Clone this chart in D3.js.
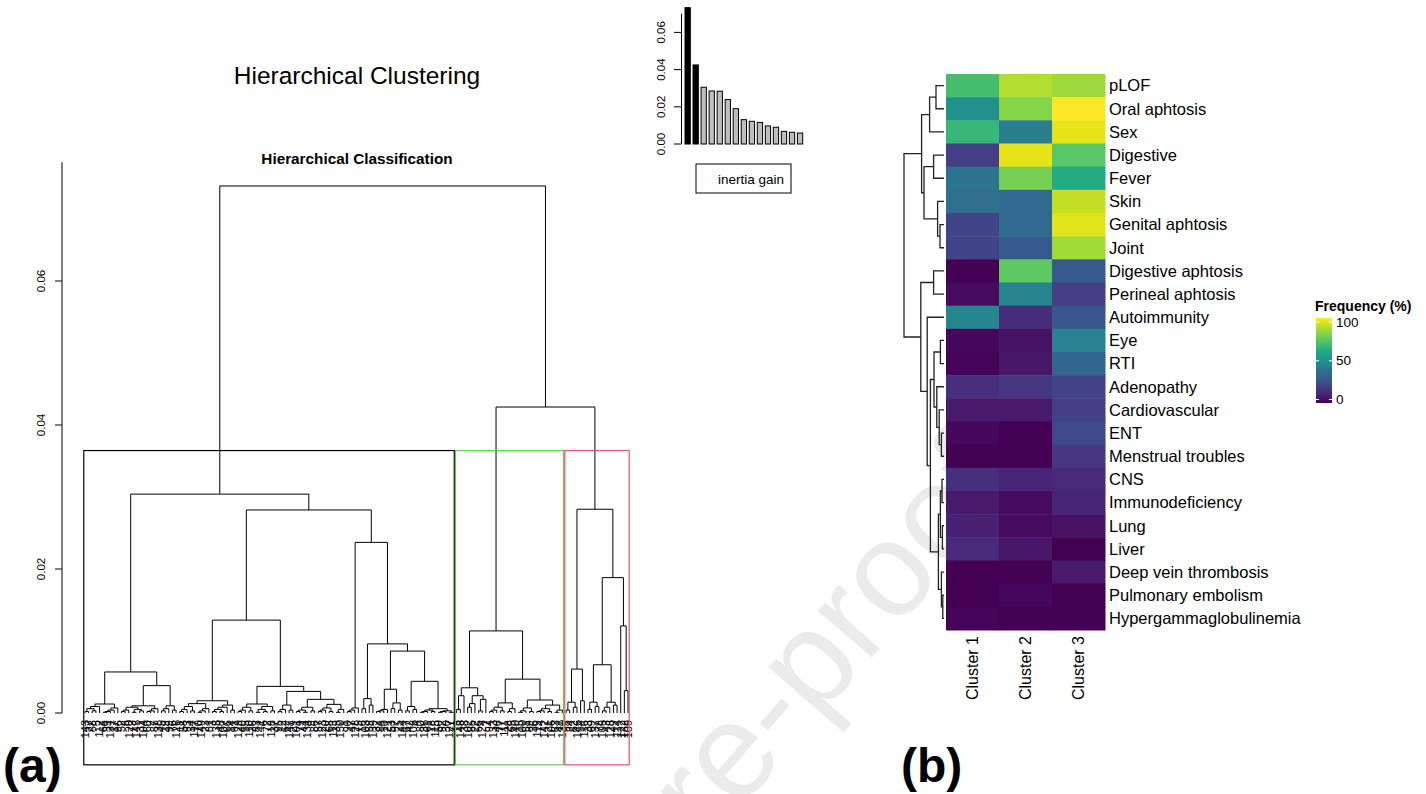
<!DOCTYPE html>
<html><head><meta charset="utf-8">
<script src="https://cdn.jsdelivr.net/npm/d3@7"></script>
<style>
body{margin:0;background:#fff}
svg{display:block}
text{font-family:"Liberation Sans",Arial,Helvetica,sans-serif}
</style>
</head><body>
<svg id="c" width="1426" height="794"></svg>
<script>
// ---------------- DATA ----------------
// leaf labels of the individuals dendrogram, in plotted order
const leafLabels = [
143,27,88,5,112,64,39,131,17,96,
52,8,120,73,145,31,104,60,2,87,
138,45,19,99,76,126,11,58,93,34,
117,70,149,23,81,3,135,48,107,66,
14,91,129,40,55,110,26,83,141,6,
72,118,37,95,12,62,147,29,101,79,
44,134,9,86,57,123,20,68,113,35,
150,1,90,47,128,75,16,103,59,139,
32,84,10,121,53,97,25,144,67,42,
108,4,80,136,61,18,115,50,92,30,
127,71,13,148,38,102,85,22,56,124,
7,94,133,46,77,111,28,65,140,15,
100,51,89,36,119,74,142,21,106,63,
41,130,98,24,82,146,54,116,33,69,
137,78,105,43,125,49,114,122,132,109];

// dendrogram structure (Newick, * = leaf, :h = merge height)
const BLa = "((((*,*):0.0002,(*,*):0.0003):0.0006,*):0.0009,((((*,*):0.0001,*):0.0002,*):0.0004,*):0.0007):0.00125";
const BLb1 = "((((*,*):0.0002,*):0.0004,((*,*):0.0001,(*,*):0.0003):0.0005):0.0008,(((*,*):0.0002,*):0.0003,*):0.0006):0.0010";
const BLb2 = "(((*,*):0.0003,*):0.0006,(*,*):0.0004):0.0010";
const BR1a = "(((((*,*):0.0002,*):0.0005,(*,*):0.0003):0.0009,(((*,*):0.0001,*):0.0003,*):0.0006):0.0013,((((*,*):0.0002,(*,*):0.0002):0.0005,*):0.0008,(*,*):0.0004):0.0011):0.0017";
const BR1b1 = "((((*,*):0.0002,*):0.0004,(*,*):0.0003):0.0008,(((*,*):0.0001,(*,*):0.0002):0.0005,(*,*):0.0003):0.0009):0.00125";
const BR1b2a = "(((*,*):0.0002,*):0.0005,(*,*):0.0004):0.0011";
const BR1b2b = "((((*,*):0.0002,(*,*):0.0001):0.0004,(*,*):0.0003):0.0008,((((*,*):0.0002,*):0.0004,(*,*):0.0002):0.0007,((*,*):0.0001,*):0.0005):0.0012):0.0019";
const BR2a = "(((*,*):0.0002,*):0.0004,*):0.0007";
const BR2b1 = "((*,*):0.0006,(*,*):0.0011):0.0020";
const BR2b2a = "((((*,*):0.0002,*):0.0003,*):0.0005,((*,*):0.0006,(*,*):0.0004):0.0014):0.0033";
const BR2b2b1 = "((*,*):0.0003,(*,*):0.0005):0.0009";
const BR2b2b2 = "((((*,*):0.0001,*):0.0002,(*,*):0.0002):0.0004,(((*,*):0.0001,*):0.0002,(*,*):0.0001):0.0003):0.0006";
const G1a = "((*,*):0.0005,*):0.0024";
const G1b = "(((*,*):0.0008,*):0.0013,((*,*):0.0003,*):0.0019):0.0024";
const G2a = "((((*,*):0.0002,*):0.0004,(*,*):0.0003):0.0008,((*,*):0.0002,*):0.0006):0.0014";
const G2b = "((((*,*):0.0001,*):0.0003,(*,*):0.0002):0.0007,((((*,*):0.0002,*):0.0003,(*,*):0.0002):0.0006,((*,*):0.0001,*):0.0004):0.0011):0.0018";
const R1a = "((*,*):0.0004,(*,*):0.0008):0.0015";
const R1b = "(*,*):0.0017";
const R2a1 = "((*,*):0.0005,(*,*):0.0009):0.0015";
const R2a2 = "(((*,*):0.0003,*):0.0008,(*,*):0.0011):0.0015";
const R2b = "(*,(*,*):0.0031):0.0121";

const blackCluster = `((${BLa},(${BLb1},${BLb2}):0.0038):0.0057,((${BR1a},(${BR1b1},(${BR1b2a},${BR1b2b}):0.0030):0.0037):0.0129,(${BR2a},(${BR2b1},(${BR2b2a},(${BR2b2b1},${BR2b2b2}):0.0044):0.0086):0.0096):0.0237):0.0282):0.0304`;
const greenCluster = `((${G1a},${G1b}):0.0035,(${G2a},${G2b}):0.0047):0.0114`;
const redCluster = `((${R1a},${R1b}):0.0061,((${R2a1},${R2a2}):0.0067,${R2b}):0.0188):0.0283`;
const fullTree = `(${blackCluster},(${greenCluster},${redCluster}):0.0425):0.0732`;

const heightTicks = [0, 0.02, 0.04, 0.06];
const clusterColors = ["#000000", "#61D04F", "#DF536B"];

// inertia gain inset
const inertiaGain = [0.0733, 0.0425, 0.0305, 0.0285, 0.0284, 0.0239, 0.0190, 0.0131, 0.0122, 0.0116, 0.0097, 0.0090, 0.0068, 0.0063, 0.0059];
const gainTicks = [0, 0.02, 0.04, 0.06];

// heatmap
const rowLabels = ["pLOF","Oral aphtosis","Sex","Digestive","Fever","Skin","Genital aphtosis","Joint",
  "Digestive aphtosis","Perineal aphtosis","Autoimmunity","Eye","RTI","Adenopathy","Cardiovascular","ENT",
  "Menstrual troubles","CNS","Immunodeficiency","Lung","Liver","Deep vein thrombosis","Pulmonary embolism","Hypergammaglobulinemia"];
const clusterNames = ["Cluster 1","Cluster 2","Cluster 3"];
const freqCluster1 = [70,50,67,18,38,36,20,20, 0,3,46,2,1,14,7,2, 0,14,7,9,12,0,0,1];
const freqCluster2 = [88,82,42,96,79,34,34,28, 75,45,13,5,6,16,7,0, 0,10,3,3,6,0,2,0];
const freqCluster3 = [85,100,96,74,61,91,95,86, 28,18,27,44,33,20,19,22, 16,11,10,5,0,7,0,0];
// row dendrogram (leaf = row index)
const rowTree = "((((0,1):0.20,2):0.36,((3,4):0.26,(5,(6,7):0.10):0.16):0.50):0.56,((8,9):0.26,(10,(((11,12):0.09,(13,(14,(15,16):0.065):0.12):0.18):0.25,(((17,18):0.05,(19,20):0.04):0.09,(21,(22,23):0.03):0.065):0.14):0.34):0.42):0.58):1.0";
const legendTicks = [0, 50, 100];

// ---------------- HELPERS ----------------
function parseNewick(str){
  const s = str.replace(/\s+/g,''); let i = 0;
  function node(){
    let n;
    if (s[i] === '('){
      i++; const ch = [node()];
      while (s[i] === ','){ i++; ch.push(node()); }
      i++; n = {children: ch};
    } else {
      const j = i; while (i < s.length && !"(),:".includes(s[i])) i++;
      n = {name: s.slice(j, i)};
    }
    n.h = 0;
    if (s[i] === ':'){ i++; const j = i; while (i < s.length && !"(),".includes(s[i])) i++; n.h = +s.slice(j, i); }
    return n;
  }
  return node();
}

const svg = d3.select("#c");

// watermark (underneath)
svg.append("text").attr("transform", "translate(334,1276) rotate(-49)")
  .attr("font-size", 135).attr("fill", "rgb(120,120,120)").attr("fill-opacity", 0.15)
  .text("Journal Pre-proof");

// ---------------- PANEL (a) ----------------
const tree = d3.hierarchy(parseNewick(fullTree));
const leaves = tree.leaves();
const n = leaves.length;
const x = d3.scaleLinear().domain([1, n]).range([85, 628]);
const y = d3.scaleLinear().domain([0, 0.0765]).range([713, 162.2]);
leaves.forEach((l, i) => { l.idx = i + 1; l.px = x(i + 1); l.label = leafLabels[i % leafLabels.length]; });
tree.eachAfter(d => {
  if (d.children) d.px = (d.children[0].px + d.children[d.children.length - 1].px) / 2;
  d.py = y(d.data.h);
});

svg.append("text").attr("x", 357).attr("y", 84).attr("text-anchor", "middle")
  .attr("font-size", 24.5).text("Hierarchical Clustering");
svg.append("text").attr("x", 357).attr("y", 164).attr("text-anchor", "middle")
  .attr("font-size", 15.3).attr("font-weight", "bold").text("Hierarchical Classification");

// y axis
const ax = svg.append("g");
ax.append("line").attr("x1", 62).attr("x2", 62).attr("y1", y(0)).attr("y2", y.range()[1]).attr("stroke", "#000");
heightTicks.forEach(t => {
  ax.append("line").attr("x1", 55).attr("x2", 62).attr("y1", y(t)).attr("y2", y(t)).attr("stroke", "#000");
  ax.append("text").attr("transform", `translate(45,${y(t)}) rotate(-90)`).attr("text-anchor", "middle")
    .attr("font-size", 11.5).text(d3.format(".2f")(t));
});

// dendrogram links
const gd = svg.append("g").attr("fill", "none").attr("stroke", "#000").attr("stroke-width", 1);
tree.each(d => {
  if (!d.children) return;
  const c0 = d.children[0], c1 = d.children[d.children.length - 1];
  let p = `M${c0.px},${c0.py}V${d.py}H${c1.px}V${c1.py}`;
  d.children.slice(1, -1).forEach(c => { p += `M${c.px},${d.py}V${c.py}`; });
  gd.append("path").attr("d", p);
});

// leaf labels
const gl = svg.append("g");
leaves.forEach(l => {
  gl.append("text").attr("transform", `translate(${l.px},720) rotate(-90)`)
    .attr("text-anchor", "end").attr("dy", "0.35em").attr("font-size", 11).text(l.label);
});

// cluster rectangles
const clusterNodes = [tree.children[0], tree.children[1].children[0], tree.children[1].children[1]];
const rectTop = (tree.children[1].data.h + tree.children[0].data.h) / 2;
clusterNodes.forEach((c, k) => {
  const lv = c.leaves();
  const x0 = x(lv[0].idx - 0.34), x1 = x(lv[lv.length - 1].idx + 0.33);
  svg.append("rect").attr("x", x0).attr("y", y(rectTop)).attr("width", x1 - x0)
    .attr("height", y(-0.0072) - y(rectTop)).attr("fill", "none")
    .attr("stroke", clusterColors[k]).attr("stroke-width", 1.2);
});

// inertia gain inset
const xb = d3.scaleBand().domain(d3.range(inertiaGain.length)).range([685, 802.7]).paddingInner(0.34).paddingOuter(0);
const yb = d3.scaleLinear().domain([0, 0.07]).range([144, 13.8]);
svg.append("g").selectAll("rect").data(inertiaGain).join("rect")
  .attr("x", (d, i) => xb(i)).attr("width", xb.bandwidth())
  .attr("y", d => yb(d)).attr("height", d => yb(0) - yb(d))
  .attr("fill", (d, i) => i < 2 ? "#000" : "#BEBEBE").attr("stroke", "#000").attr("stroke-width", 1);
svg.append("line").attr("x1", 681.5).attr("x2", 681.5).attr("y1", yb(0)).attr("y2", yb(0.07)).attr("stroke", "#000");
gainTicks.forEach(t => {
  svg.append("line").attr("x1", 674).attr("x2", 681.5).attr("y1", yb(t)).attr("y2", yb(t)).attr("stroke", "#000");
  svg.append("text").attr("transform", `translate(665,${yb(t)}) rotate(-90)`).attr("text-anchor", "middle")
    .attr("font-size", 11.5).text(d3.format(".2f")(t));
});
svg.append("rect").attr("x", 696).attr("y", 164).attr("width", 95).attr("height", 29)
  .attr("fill", "#fff").attr("stroke", "#000");
svg.append("text").attr("x", 751).attr("y", 183.5).attr("text-anchor", "middle").attr("font-size", 13.5).text("inertia gain");

svg.append("text").attr("x", 3).attr("y", 782).attr("font-size", 48).attr("font-weight", "bold").text("(a)");

// ---------------- PANEL (b) ----------------
const hx = d3.scaleBand().domain(clusterNames).range([946, 1105]);
const hy = d3.scaleBand().domain(rowLabels).range([74, 630]);
const color = v => d3.interpolateViridis(v / 100);
const freqCols = [freqCluster1, freqCluster2, freqCluster3];
const gh = svg.append("g");
clusterNames.forEach((cn, j) => {
  rowLabels.forEach((rl, i) => {
    gh.append("rect").attr("x", hx(cn)).attr("y", hy(rl)).attr("width", hx.bandwidth() + 0.5)
      .attr("height", hy.bandwidth() + 0.5).attr("fill", color(freqCols[j][i]));
  });
});
rowLabels.forEach(rl => {
  svg.append("text").attr("x", 1109).attr("y", hy(rl) + hy.bandwidth() / 2).attr("dy", "0.35em")
    .attr("font-size", 16.5).text(rl);
});
clusterNames.forEach(cn => {
  svg.append("text").attr("transform", `translate(${hx(cn) + hx.bandwidth() / 2},636) rotate(-90)`)
    .attr("text-anchor", "end").attr("dy", "0.35em").attr("font-size", 16).text(cn);
});

// row dendrogram
const rtree = d3.hierarchy(parseNewick(rowTree));
const rx = d3.scaleLinear().domain([0, 1]).range([944, 904]);
rtree.eachAfter(d => {
  if (d.children) d.py = (d.children[0].py + d.children[d.children.length - 1].py) / 2;
  else d.py = hy(rowLabels[+d.data.name]) + hy.bandwidth() / 2;
  d.px = rx(d.data.h);
});
const gr = svg.append("g").attr("fill", "none").attr("stroke", "#222").attr("stroke-width", 1.3);
rtree.each(d => {
  if (!d.children) return;
  const c0 = d.children[0], c1 = d.children[d.children.length - 1];
  gr.append("path").attr("d", `M${c0.px},${c0.py}H${d.px}V${c1.py}H${c1.px}`);
});

// legend
const lx = 1316, lw = 16;
const ly = d3.scaleLinear().domain([0, 100]).range([399.5, 322]);
const grad = svg.append("defs").append("linearGradient").attr("id", "vg")
  .attr("x1", 0).attr("x2", 0).attr("y1", 1).attr("y2", 0);
d3.range(0, 1.0001, 0.1).forEach(t => grad.append("stop").attr("offset", t).attr("stop-color", d3.interpolateViridis(t)));
svg.append("rect").attr("x", lx).attr("y", 318).attr("width", lw).attr("height", 85).attr("fill", "url(#vg)");
legendTicks.forEach(t => {
  svg.append("line").attr("x1", lx).attr("x2", lx + 3).attr("y1", ly(t)).attr("y2", ly(t)).attr("stroke", "#fff");
  svg.append("line").attr("x1", lx + lw - 3).attr("x2", lx + lw).attr("y1", ly(t)).attr("y2", ly(t)).attr("stroke", "#fff");
  svg.append("text").attr("x", 1336).attr("y", ly(t)).attr("dy", "0.35em").attr("font-size", 13.5).text(t);
});
svg.append("text").attr("x", 1315).attr("y", 311).attr("font-size", 14).attr("font-weight", "bold").text("Frequency (%)");

svg.append("text").attr("x", 901).attr("y", 782).attr("font-size", 48).attr("font-weight", "bold").text("(b)");
</script>
</body></html>
